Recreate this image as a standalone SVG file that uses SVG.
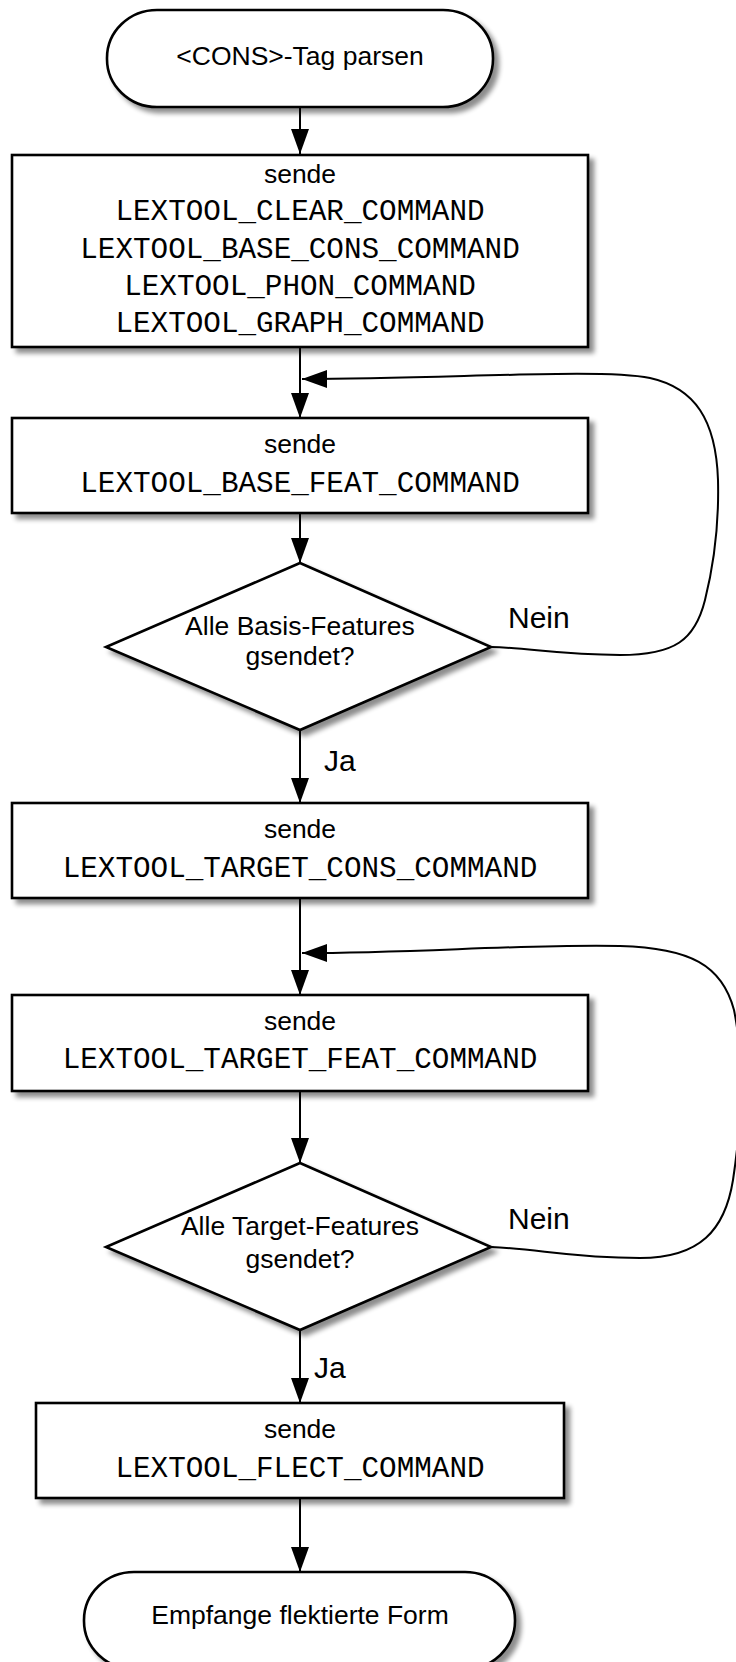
<svg xmlns="http://www.w3.org/2000/svg" width="736" height="1662" viewBox="0 0 736 1662">
  <defs>
    <filter id="shadow" x="-10%" y="-10%" width="130%" height="140%">
      <feGaussianBlur in="SourceAlpha" stdDeviation="2.5"/>
      <feOffset dx="5" dy="5" result="off"/>
      <feComponentTransfer>
        <feFuncA type="linear" slope="0.45"/>
      </feComponentTransfer>
      <feMerge>
        <feMergeNode/>
        <feMergeNode in="SourceGraphic"/>
      </feMerge>
    </filter>
    <marker id="arrow" markerUnits="userSpaceOnUse" markerWidth="26" markerHeight="20" refX="25" refY="9" orient="auto">
      <path d="M0,0 L25,9 L0,18 z" fill="#000"/>
    </marker>
  </defs>
  <style>
    .shape { fill: #fff; stroke: #000; stroke-width: 2.6; filter: url(#shadow); }
    .edge { fill: none; stroke: #000; stroke-width: 2; marker-end: url(#arrow); }
    .sans { font-family: "Liberation Sans", Arial, sans-serif; font-size: 26.5px; fill: #000; text-anchor: middle; }
    .mono { font-family: "Liberation Mono", "Courier New", monospace; font-size: 29.3px; fill: #000; text-anchor: middle; }
    .label { font-family: "Liberation Sans", Arial, sans-serif; font-size: 30px; fill: #000; }
  </style>

  <rect width="736" height="1662" fill="#fff"/>

  <!-- connectors -->
  <g id="connectors">
    <line class="edge" x1="300" y1="107" x2="300" y2="154"/>
    <line class="edge" x1="300" y1="347" x2="300" y2="418"/>
    <line class="edge" x1="300" y1="513" x2="300" y2="563"/>
    <line class="edge" x1="300" y1="730" x2="300" y2="803"/>
    <line class="edge" x1="300" y1="898" x2="300" y2="995"/>
    <line class="edge" x1="300" y1="1091" x2="300" y2="1163"/>
    <line class="edge" x1="300" y1="1330" x2="300" y2="1403"/>
    <line class="edge" x1="300" y1="1498" x2="300" y2="1572"/>
    <!-- loop back: base features -->
    <path class="edge" d="M491,647 C530,648 560,655 620,655 C675,655 695,640 705,600 C715,560 719,520 718,480 C716,420 695,388 650,378 C600,368 450,379 302,379"/>
    <!-- loop back: target features -->
    <path class="edge" d="M491,1247 C540,1249 570,1258 640,1258 C700,1258 725,1230 733,1180 C742,1120 744,1060 734,1010 C722,965 690,948 620,946 C520,944 420,953 302,953"/>
    <text class="label" x="508" y="628">Nein</text>
    <text class="label" x="324" y="771">Ja</text>
    <text class="label" x="508" y="1229">Nein</text>
    <text class="label" x="314" y="1378">Ja</text>
  </g>

  <g id="start">
    <rect class="shape" x="107" y="10" width="386" height="97" rx="50" ry="48"/>
    <text class="sans" x="300" y="65">&lt;CONS&gt;-Tag parsen</text>
  </g>

  <g id="send-cons">
    <rect class="shape" x="12" y="155" width="576" height="192"/>
    <text class="sans" x="300" y="183">sende</text>
    <text class="mono" x="300" y="220">LEXTOOL_CLEAR_COMMAND</text>
    <text class="mono" x="300" y="258">LEXTOOL_BASE_CONS_COMMAND</text>
    <text class="mono" x="300" y="295">LEXTOOL_PHON_COMMAND</text>
    <text class="mono" x="300" y="332">LEXTOOL_GRAPH_COMMAND</text>
  </g>

  <g id="send-base-feat">
    <rect class="shape" x="12" y="418" width="576" height="95"/>
    <text class="sans" x="300" y="453">sende</text>
    <text class="mono" x="300" y="492">LEXTOOL_BASE_FEAT_COMMAND</text>
  </g>

  <g id="check-base">
    <polygon class="shape" points="300,563 491,647 300,730 106,647"/>
    <text class="sans" x="300" y="635">Alle Basis-Features</text>
    <text class="sans" x="300" y="665">gsendet?</text>
  </g>

  <g id="send-target-cons">
    <rect class="shape" x="12" y="803" width="576" height="95"/>
    <text class="sans" x="300" y="838">sende</text>
    <text class="mono" x="300" y="877">LEXTOOL_TARGET_CONS_COMMAND</text>
  </g>

  <g id="send-target-feat">
    <rect class="shape" x="12" y="995" width="576" height="96"/>
    <text class="sans" x="300" y="1030">sende</text>
    <text class="mono" x="300" y="1068">LEXTOOL_TARGET_FEAT_COMMAND</text>
  </g>

  <g id="check-target">
    <polygon class="shape" points="300,1163 491,1247 300,1330 106,1247"/>
    <text class="sans" x="300" y="1235">Alle Target-Features</text>
    <text class="sans" x="300" y="1268">gsendet?</text>
  </g>

  <g id="send-flect">
    <rect class="shape" x="36" y="1403" width="528" height="95"/>
    <text class="sans" x="300" y="1438">sende</text>
    <text class="mono" x="300" y="1477">LEXTOOL_FLECT_COMMAND</text>
  </g>

  <g id="end">
    <rect class="shape" x="84" y="1572" width="431" height="97" rx="50" ry="48"/>
    <text class="sans" x="300" y="1624">Empfange flektierte Form</text>
  </g>
</svg>
